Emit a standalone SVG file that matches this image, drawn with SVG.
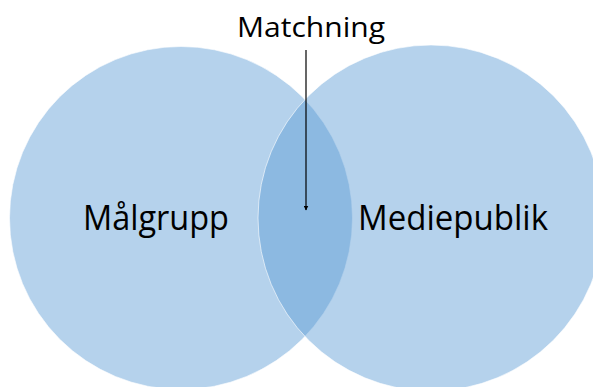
<svg xmlns="http://www.w3.org/2000/svg" width="593" height="387" viewBox="0 0 593 387">
<defs>
<style>
.circ{fill:#5b9bd5;fill-opacity:0.45;stroke:#ffffff;stroke-opacity:0.6;stroke-width:1}
.lbl{font-family:"Open Sans","Liberation Sans",sans-serif;fill:#000000}
.conn{stroke:#000000;stroke-width:1.2;fill:none}
</style>
<marker id="arr" viewBox="0 0 10 10" refX="9" refY="5" markerWidth="5" markerHeight="5" orient="auto" markerUnits="userSpaceOnUse">
<path d="M0,0 L10,5 L0,10 z" fill="#000000"/>
</marker>
</defs>
<rect width="593" height="387" fill="#ffffff"/>
<g id="malgrupp">
<circle class="circ" cx="181" cy="218" r="171.5"/>
<text class="lbl" x="83" y="229.5" font-size="34.5" textLength="146" lengthAdjust="spacingAndGlyphs">Målgrupp</text>
</g>
<g id="mediepublik">
<circle class="circ" cx="431" cy="218" r="173"/>
<text class="lbl" x="358" y="229.5" font-size="34.5" textLength="190" lengthAdjust="spacingAndGlyphs">Mediepublik</text>
</g>
<g id="matchning">
<text class="lbl" x="237" y="37" font-size="27" textLength="148" lengthAdjust="spacingAndGlyphs">Matchning</text>
</g>
<g id="connectors">
<line class="conn" x1="306" y1="50" x2="306" y2="210" marker-end="url(#arr)"/>
</g>
</svg>
